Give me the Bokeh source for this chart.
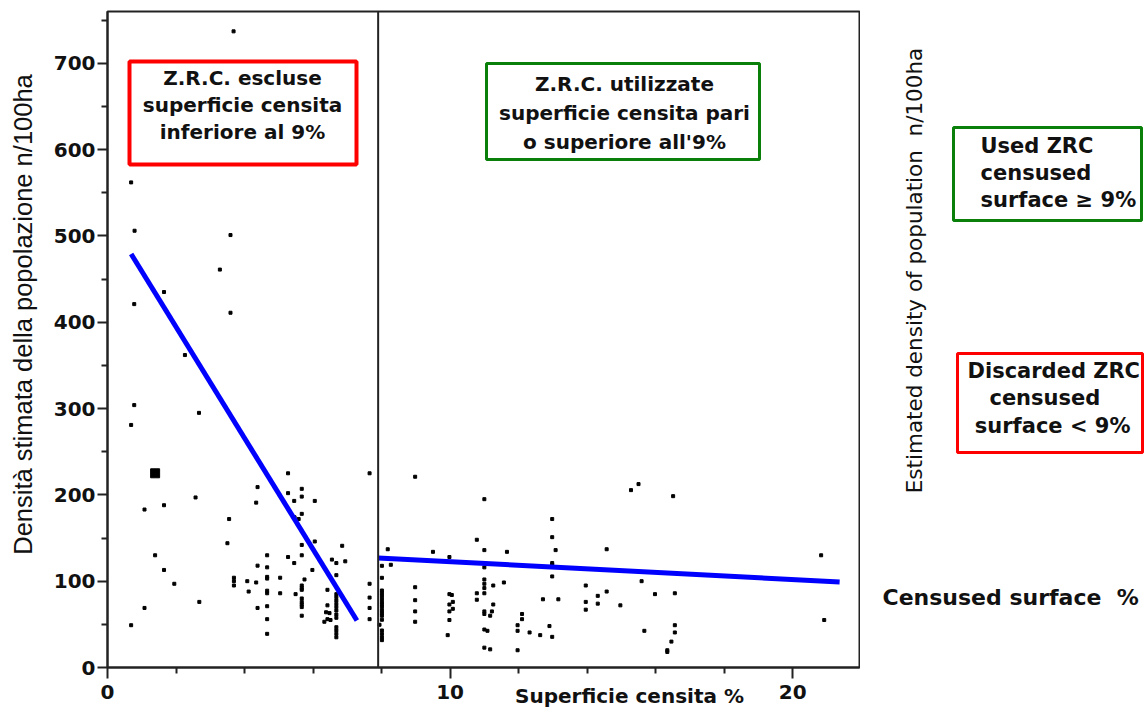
from bokeh.plotting import figure
from bokeh.models import (Range1d, FixedTicker, Span, Label, BoxAnnotation,
                          LinearAxis)
from bokeh.layouts import row
from bokeh.embed import file_html
from bokeh.resources import INLINE
import math

# ---------------- data ----------------
x_pts = [3.68, 0.69, 0.79, 3.59,
         3.28, 1.65, 0.78, 3.59, 2.26, 0.78, 2.67, 0.69, 5.27, 7.65,
         4.38, 2.57, 5.67, 5.27, 1.08, 1.65, 4.34, 5.45, 5.67, 6.05,
         3.55, 5.46, 5.58, 5.67, 3.50, 6.05, 5.67, 6.85, 1.39, 4.66,
         5.27, 5.67, 6.55, 6.68, 6.94, 5.45, 4.38, 4.66, 1.65, 5.98,
         6.68, 4.66, 4.66, 5.04, 5.75, 3.69, 3.69, 3.69, 4.08, 4.34,
         1.95, 7.65, 5.67, 5.67, 5.67, 4.12, 4.66, 4.66, 5.04, 6.42, 5.49,
         6.68, 6.68, 6.68, 6.68, 6.68, 6.68, 6.68, 6.68, 6.68, 6.68, 6.68, 6.68,
         7.65, 2.68, 5.67, 5.67, 5.67, 5.67, 4.38, 4.66, 1.08, 7.65, 6.42,
         6.38, 6.48, 6.42, 6.51, 6.33, 5.67, 4.66, 7.65, 0.69, 4.66,
         8.18, 8.27, 7.94,
         8.01, 8.01, 8.01, 8.01, 8.01, 8.01, 8.01, 8.01, 8.01, 8.01, 8.01,
         8.01, 8.01, 8.01, 8.01, 8.01, 8.01,
         8.98, 11.0, 12.98, 12.98, 10.78, 9.5, 11.0, 11.66, 13.08, 14.57,
         9.98, 12.98, 12.98, 11.0, 12.98, 8.98, 8.98, 8.98, 8.98, 9.98,
         10.05, 10.08, 9.98, 10.08, 9.98, 9.98, 9.93, 11.0, 11.0, 11.0,
         11.0, 10.78, 10.78, 11.26, 11.57, 11.0, 11.0, 11.26, 11.22, 11.17,
         11.0, 11.09, 11.0, 11.17, 12.1, 12.1, 11.97, 11.97, 11.97, 12.32,
         12.63, 12.9, 12.98, 12.71, 13.16, 13.96, 13.96, 13.96, 14.31,
         14.31, 14.57, 14.97,
         15.28, 15.5, 16.51, 15.59, 15.98, 16.56, 15.67, 16.56, 16.56,
         16.46, 16.34, 16.34, 20.83, 20.92]
y_pts = [737, 562, 506, 501,
         461, 435, 421, 411, 362, 304, 295, 281, 225, 225,
         209, 197, 207, 202, 183, 188, 191, 193, 198, 193,
         172, 174, 172, 178, 144, 146, 142, 141, 130, 130,
         128, 130, 125, 121, 123, 121, 118, 116, 113, 113,
         107, 105, 103, 104, 102, 104, 100, 95, 100, 98.5,
         97, 97, 95, 92, 90, 88, 89, 86, 86, 90, 85,
         85, 81.5, 77.6, 73.7, 70, 66, 61.4, 57.6, 46.7, 43, 39, 35,
         81, 76, 80, 76, 73, 70, 69, 71, 69, 69, 72,
         64, 63, 56, 55, 53, 60, 56, 56, 49, 39,
         137, 119, 49.5,
         117.8, 103.9, 89.2, 86.1, 83.1, 79.6, 76.1, 73, 69.9, 66.1, 62.9,
         59.9, 55.3, 42.9, 39, 35.1, 31.7,
         221, 195, 172, 151, 148, 134, 136, 134, 136, 137,
         128, 121, 119, 116, 105.5, 93, 78, 65, 53, 85,
         84, 76, 73, 68, 65, 55, 37.5, 102, 97, 92,
         86, 86, 78.5, 95, 98.5, 65, 62, 73, 65, 60,
         44, 42.5, 23, 21, 62, 56, 49, 42.5, 20, 40.6,
         37.5, 48, 35.5, 79, 79, 95, 76, 67, 83,
         74, 88, 72,
         205.5, 212.5, 198.5, 100, 85, 86, 42.5, 49, 40.6,
         30, 20, 18, 130, 55]

big_x = [1.39]
big_y = [225]

fit_left_x = [0.69, 7.28]
fit_left_y = [479, 54.5]
fit_right_x = [7.9, 21.37]
fit_right_y = [127, 99]

threshold_x = 7.9

x_major = [0, 10, 20]
x_minor = [2, 4, 6, 8, 12, 14, 16, 18]
y_major = [0, 100, 200, 300, 400, 500, 600, 700]
y_minor = [50, 150, 250, 350, 450, 550, 650, 750]

NB = "\u00a0"
x_title = "Superficie censita %"
y_title = "Densit\u00e0 stimata della popolazione n/100ha"
y_title_en = "Estimated density of population" + NB + NB + "n/100ha"
x_title_en = "Censused surface" + NB + NB + "%"
box_left_txt = "Z.R.C. escluse\nsuperficie censita\ninferiore al 9%"
box_mid_txt = "Z.R.C. utilizzate\nsuperficie censita pari\no superiore all'9%"
box_used_txt = "Used ZRC\ncensused\nsurface \u2265 9%"
box_disc_txt = "Discarded ZRC\n" + NB * 3 + "censused\n" + NB + "surface < 9%"

# ---------------- layout ----------------
H = 714
FL, FR, FT, FB = 107, 859, 11, 667      # frame edges in page pixels
W1 = 860
W2 = 1144 - W1

INK = "#222222"
RED = "#ff0000"
GREEN = "#0a800a"

p = figure(width=W1, height=H, output_backend="svg", toolbar_location=None,
           x_range=Range1d(0, 21.95), y_range=Range1d(0, 760),
           min_border_left=FL, min_border_right=W1 - FR, min_border_top=FT,
           min_border_bottom=H - FB)
p.grid.visible = False
p.background_fill_color = "white"
p.border_fill_color = "white"
p.outline_line_color = INK
p.outline_line_width = 2

for ax in (p.xaxis[0], p.yaxis[0]):
    ax.axis_line_color = INK
    ax.axis_line_width = 2
    ax.major_tick_line_color = INK
    ax.minor_tick_line_color = INK
    ax.major_tick_line_width = 2
    ax.minor_tick_line_width = 2
    ax.major_tick_in = 0
    ax.minor_tick_in = 0
    ax.minor_tick_out = 6
    ax.major_label_text_font = "DejaVu Sans"
    ax.major_label_text_font_style = "bold"
    ax.major_label_text_font_size = "20px"
    ax.major_label_text_color = "#111111"

p.xaxis.ticker = FixedTicker(ticks=x_major, minor_ticks=x_minor)
p.yaxis.ticker = FixedTicker(ticks=y_major, minor_ticks=y_minor)
p.xaxis.major_tick_out = 11
p.yaxis.major_tick_out = 10
p.xaxis.major_label_standoff = 6
p.yaxis.major_label_standoff = 2

# axis titles, drawn as single-tick label axes (pixel ranges)
p.extra_x_ranges = {"lab": Range1d(0, FR - FL)}
p.extra_y_ranges = {"lab": Range1d(0, FB - FT)}

xlab_pos = 522
xl = LinearAxis(x_range_name="lab", ticker=FixedTicker(ticks=[xlab_pos], minor_ticks=[]),
                major_label_overrides={xlab_pos: x_title},
                axis_line_color=None, major_tick_line_color=None,
                minor_tick_line_color=None, major_tick_out=0, major_tick_in=0,
                major_label_standoff=-18,
                major_label_text_font="DejaVu Sans",
                major_label_text_font_style="bold",
                major_label_text_font_size="20px",
                major_label_text_color="#111111")
p.add_layout(xl, "below")

ylab_pos = 353
yl = LinearAxis(y_range_name="lab", ticker=FixedTicker(ticks=[ylab_pos], minor_ticks=[]),
                major_label_overrides={ylab_pos: y_title},
                axis_line_color=None, major_tick_line_color=None,
                minor_tick_line_color=None, major_tick_out=0, major_tick_in=0,
                major_label_standoff=14, major_label_orientation="parallel",
                major_label_text_font="Liberation Sans",
                major_label_text_font_style="normal",
                major_label_text_font_size="25.5px",
                major_label_text_color="#111111")
p.add_layout(yl, "left")

# threshold line
p.add_layout(Span(location=threshold_x, dimension="height",
                  line_color=INK, line_width=2))

# points
p.scatter(x_pts, y_pts, marker="square", size=3, color="black")
p.scatter(big_x, big_y, marker="square", size=9, color="black")

# fitted lines
p.line(fit_left_x, fit_left_y, line_color="#0000ff", line_width=5)
p.line(fit_right_x, fit_right_y, line_color="#0000ff", line_width=5)


def fx(X):
    return X - FL


def fy(Y):
    return FB - Y


def box_main(x0, y0, x1, y1, color, lw):
    p.add_layout(BoxAnnotation(left=fx(x0), right=fx(x1), top=fy(y0), bottom=fy(y1),
                               left_units="screen", right_units="screen",
                               top_units="screen", bottom_units="screen",
                               fill_alpha=0, line_color=color, line_width=lw,
                               line_alpha=1))


def label_main(x, y, text, size, align="left", lh=1.2):
    p.add_layout(Label(x=fx(x), y=fy(y), x_units="screen", y_units="screen",
                       text=text, text_font="DejaVu Sans", text_font_style="bold",
                       text_font_size=size, text_align=align,
                       text_baseline="top", text_color="#111111",
                       text_line_height=lh))


box_main(129, 61, 356, 164, RED, 4)
label_main(242, 65, box_left_txt, "20px", align="center", lh=1.13)

box_main(486, 63, 759, 159, GREEN, 3)
label_main(624, 71, box_mid_txt, "20px", align="center", lh=1.21)

# ---------------- right side panel ----------------
# its frame is aligned with the main frame, so its y range spans the same pixels
p2 = figure(width=W2, height=H, output_backend="svg", toolbar_location=None,
            x_range=Range1d(W1, 1144), y_range=Range1d(H - FB, H - FT),
            min_border_left=0, min_border_right=0,
            min_border_top=FT, min_border_bottom=H - FB,
            x_axis_location=None, y_axis_location=None)
p2.grid.visible = False
p2.outline_line_color = None
p2.background_fill_color = "white"
p2.border_fill_color = "white"


def ry(Y):
    return H - Y


def box_side(x0, y0, x1, y1, color, lw):
    p2.add_layout(BoxAnnotation(left=x0, right=x1, top=ry(y0), bottom=ry(y1),
                                fill_alpha=0, line_color=color, line_width=lw,
                                line_alpha=1))


def label_side(x, y, text, size, style="bold", align="left", baseline="top",
               angle=0, lh=1.2):
    p2.add_layout(Label(x=x, y=ry(y), text=text, text_font="DejaVu Sans",
                        text_font_style=style, text_font_size=size,
                        text_align=align, text_baseline=baseline, angle=angle,
                        text_color="#111111", text_line_height=lh))


box_side(953, 127, 1141, 220, GREEN, 3)
label_side(980, 133, box_used_txt, "21px", lh=1.14)

box_side(957, 353, 1142, 452, RED, 3)
label_side(967, 358, box_disc_txt, "21px", lh=1.16)

label_side(914, 270, y_title_en, "21.5px", style="normal", align="center",
           baseline="middle", angle=math.pi / 2)
label_side(882, 597, x_title_en, "22px", baseline="alphabetic")

layout = row(p, p2)
open("out.html", "w").write(file_html(layout, INLINE))
